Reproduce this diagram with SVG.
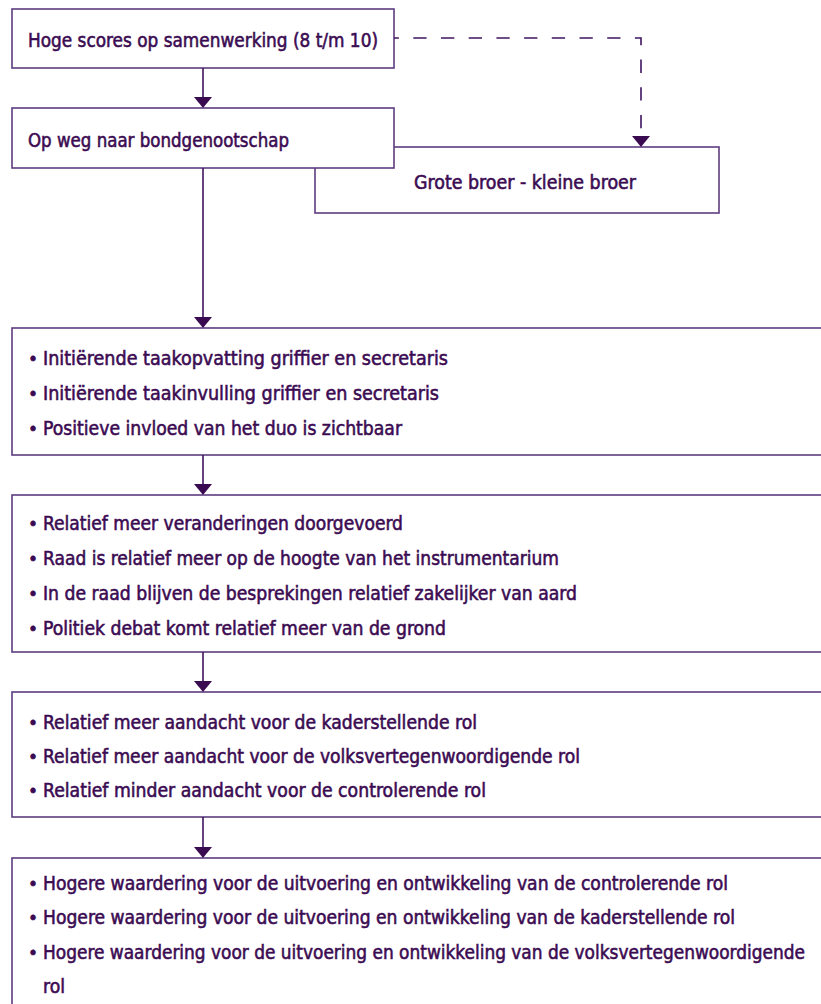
<svg xmlns="http://www.w3.org/2000/svg" width="821" height="1004" viewBox="0 0 821 1004">
<style>
.box{fill:#fff;stroke:#5e3c80;stroke-width:1.6}
.t{font-family:"DejaVu Sans Condensed","DejaVu Sans",sans-serif;font-size:19.5px;fill:#3b0b52;stroke:#3b0b52;stroke-width:0.55}
.b{font-family:"DejaVu Sans","Liberation Sans",sans-serif;font-size:17px;fill:#3b0b52;stroke:#3b0b52;stroke-width:0.6}
.ln{fill:none;stroke:#3f1560;stroke-width:1.6}
.ah{fill:#3b0b52}
</style>
<defs>
<path id="arr" d="M-9,0 L9,0 L0,11 Z"/>
</defs>
<rect width="821" height="1004" fill="#fff"/>
<g id="n_grote">
<rect class="box" x="315" y="147" width="404" height="66"/>
<text class="t" x="414" y="189" textLength="222" lengthAdjust="spacingAndGlyphs">Grote broer - kleine broer</text>
</g>
<g id="n_hoge">
<rect class="box" x="12" y="9" width="382" height="59"/>
<text class="t" x="28" y="47" textLength="350" lengthAdjust="spacingAndGlyphs">Hoge scores op samenwerking (8 t/m 10)</text>
</g>
<g id="n_opweg">
<rect class="box" x="12" y="108" width="382" height="60"/>
<text class="t" x="28" y="147" textLength="261" lengthAdjust="spacingAndGlyphs">Op weg naar bondgenootschap</text>
</g>
<g id="n_taak">
<rect class="box" x="12" y="328" width="820" height="127"/>
<text class="b" x="28" y="365">•</text>
<text class="t" x="43" y="365" textLength="405" lengthAdjust="spacingAndGlyphs">Initiërende taakopvatting griffier en secretaris</text>
<text class="b" x="28" y="400">•</text>
<text class="t" x="43" y="400" textLength="396" lengthAdjust="spacingAndGlyphs">Initiërende taakinvulling griffier en secretaris</text>
<text class="b" x="28" y="435">•</text>
<text class="t" x="43" y="435" textLength="359" lengthAdjust="spacingAndGlyphs">Positieve invloed van het duo is zichtbaar</text>
</g>
<g id="n_veranderingen">
<rect class="box" x="12" y="495" width="820" height="157"/>
<text class="b" x="28" y="530">•</text>
<text class="t" x="43" y="530" textLength="360" lengthAdjust="spacingAndGlyphs">Relatief meer veranderingen doorgevoerd</text>
<text class="b" x="28" y="565">•</text>
<text class="t" x="43" y="565" textLength="516" lengthAdjust="spacingAndGlyphs">Raad is relatief meer op de hoogte van het instrumentarium</text>
<text class="b" x="28" y="600">•</text>
<text class="t" x="43" y="600" textLength="534" lengthAdjust="spacingAndGlyphs">In de raad blijven de besprekingen relatief zakelijker van aard</text>
<text class="b" x="28" y="635">•</text>
<text class="t" x="43" y="635" textLength="403" lengthAdjust="spacingAndGlyphs">Politiek debat komt relatief meer van de grond</text>
</g>
<g id="n_aandacht">
<rect class="box" x="12" y="692" width="820" height="125"/>
<text class="b" x="28" y="729">•</text>
<text class="t" x="43" y="729" textLength="434" lengthAdjust="spacingAndGlyphs">Relatief meer aandacht voor de kaderstellende rol</text>
<text class="b" x="28" y="763">•</text>
<text class="t" x="43" y="763" textLength="537" lengthAdjust="spacingAndGlyphs">Relatief meer aandacht voor de volksvertegenwoordigende rol</text>
<text class="b" x="28" y="797">•</text>
<text class="t" x="43" y="797" textLength="443" lengthAdjust="spacingAndGlyphs">Relatief minder aandacht voor de controlerende rol</text>
</g>
<g id="n_waardering">
<rect class="box" x="12" y="858" width="820" height="160"/>
<text class="b" x="28" y="890">•</text>
<text class="t" x="43" y="890" textLength="685" lengthAdjust="spacingAndGlyphs">Hogere waardering voor de uitvoering en ontwikkeling van de controlerende rol</text>
<text class="b" x="28" y="924">•</text>
<text class="t" x="43" y="924" textLength="692" lengthAdjust="spacingAndGlyphs">Hogere waardering voor de uitvoering en ontwikkeling van de kaderstellende rol</text>
<text class="b" x="28" y="959">•</text>
<text class="t" x="43" y="959" textLength="762" lengthAdjust="spacingAndGlyphs">Hogere waardering voor de uitvoering en ontwikkeling van de volksvertegenwoordigende</text>
<text class="t" x="43" y="993" textLength="22" lengthAdjust="spacingAndGlyphs">rol</text>
</g>
<g id="connectors">
<line class="ln" x1="203" y1="68" x2="203" y2="98"/>
<use href="#arr" class="ah" x="203" y="97"/>
<line class="ln" x1="203" y1="168" x2="203" y2="318"/>
<use href="#arr" class="ah" x="203" y="317"/>
<line class="ln" x1="203" y1="455" x2="203" y2="485"/>
<use href="#arr" class="ah" x="203" y="484"/>
<line class="ln" x1="203" y1="652" x2="203" y2="682"/>
<use href="#arr" class="ah" x="203" y="681"/>
<line class="ln" x1="203" y1="817" x2="203" y2="848"/>
<use href="#arr" class="ah" x="203" y="847"/>
<path class="ln" d="M394,38 H641 V137" stroke-dasharray="13.3 14.4" stroke-dashoffset="8.4"/>
<use href="#arr" class="ah" x="641" y="136"/>
</g>
</svg>
